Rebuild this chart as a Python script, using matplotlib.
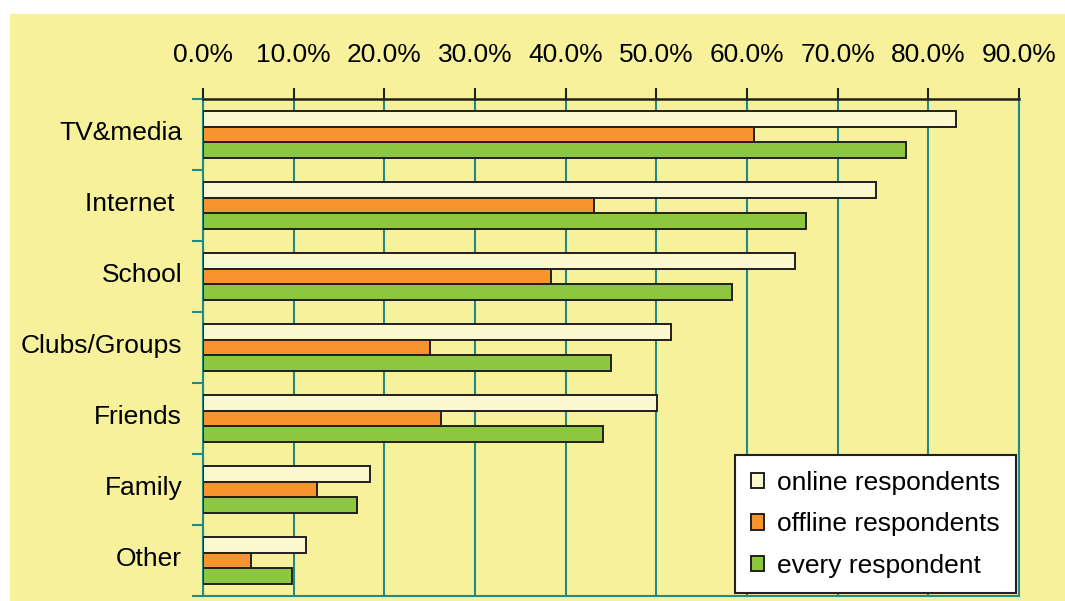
import matplotlib.pyplot as plt
import numpy as np
import matplotlib.transforms as mtransforms
from matplotlib.patches import Rectangle
from matplotlib.ticker import FixedLocator

plt.rcParams['font.family'] = ['Liberation Sans', 'DejaVu Sans']

# 数据
categories = ['TV&media', 'Internet ', 'School', 'Clubs/Groups', 'Friends', 'Family', 'Other']
online = [83.1, 74.2, 65.3, 51.6, 50.1, 18.4, 11.4]
offline = [60.8, 43.1, 38.4, 25.0, 26.3, 12.6, 5.3]
every = [77.5, 66.5, 58.4, 45.0, 44.1, 17.0, 9.8]
series_names = ['online respondents', 'offline respondents', 'every respondent']
xticks = [0, 10, 20, 30, 40, 50, 60, 70, 80, 90]

c_online = '#FBF7CF'
c_offline = '#F7942B'
c_every = '#8DC63F'
teal = '#1E8A8A'
edge = '#231F20'
bg = '#F6F19A'

fig = plt.figure(figsize=(10.65, 6.01), dpi=100)
# 黄色背景，左上留白
fig.patches.append(Rectangle((10 / 1065, 0), 1, 1 - 14 / 601, transform=fig.transFigure,
                             facecolor=bg, edgecolor='none', zorder=-10))

ax = fig.add_axes([203 / 1065, 5 / 601, 816 / 1065, 497 / 601])
ax.set_facecolor(bg)

y = np.arange(len(categories))
h = 0.225
ax.barh(y - h, online, height=h, color=c_online, edgecolor=edge, linewidth=1.4, label=series_names[0], zorder=3)
ax.barh(y, offline, height=h, color=c_offline, edgecolor=edge, linewidth=1.4, label=series_names[1], zorder=3)
ax.barh(y + h, every, height=h, color=c_every, edgecolor=edge, linewidth=1.4, label=series_names[2], zorder=3)

ax.set_xlim(0, 90)
ax.set_ylim(len(categories) - 0.5, -0.5)

# x轴在顶部
ax.xaxis.tick_top()
ax.set_xticks(xticks)
ax.set_xticklabels(['%.1f%%' % v for v in xticks], fontsize=19)
ax.tick_params(axis='x', direction='out', length=8, width=1.5, color=edge, pad=15)
ax.grid(axis='x', color=teal, linewidth=1.5, zorder=1)

ax.set_yticks(y)
ax.set_yticklabels(categories, fontsize=19)
ax.tick_params(axis='y', which='major', length=0, pad=15)
ax.yaxis.set_minor_locator(FixedLocator(np.arange(-0.5, len(categories), 1.0)))
ax.tick_params(axis='y', which='minor', length=8, width=1.5, color=teal)
# 标签略微上移
up = mtransforms.ScaledTranslation(0, 4 / 100, fig.dpi_scale_trans)
for lab in ax.get_yticklabels():
    lab.set_transform(lab.get_transform() + up)

for s in ['left', 'right', 'bottom']:
    ax.spines[s].set_color(teal)
    ax.spines[s].set_linewidth(1.5)
ax.spines['top'].set_color(edge)
ax.spines['top'].set_linewidth(1.8)
ax.spines['top'].set_zorder(4)

leg = ax.legend(loc='lower right', fontsize=19, frameon=True, fancybox=False,
                edgecolor=edge, facecolor='white', framealpha=1,
                handlelength=0.5, handleheight=0.5, handletextpad=0.5,
                labelspacing=0.65, borderpad=0.6, borderaxespad=0.1)
leg.get_frame().set_linewidth(1.5)
leg.set_zorder(5)

fig.savefig('out.png', dpi=100)
